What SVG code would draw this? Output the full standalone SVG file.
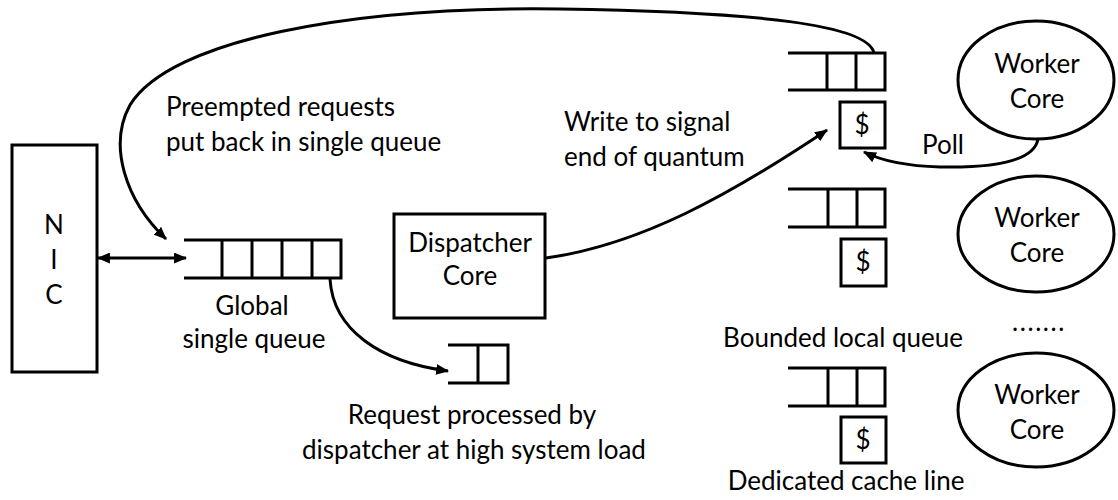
<svg xmlns="http://www.w3.org/2000/svg" width="1118" height="500" viewBox="0 0 1118 500">
<style>
text{font-family:Lato,"Liberation Sans",sans-serif;font-size:26px;fill:#000}
.box{fill:#fff;stroke:#000;stroke-width:3}
.q{fill:none;stroke:#000;stroke-width:3}
.c{fill:none;stroke:#000;stroke-width:3}
.m{text-anchor:middle}
</style>
<defs>
<marker id="ah" viewBox="0 0 12 10" refX="11" refY="5" markerWidth="13" markerHeight="11" markerUnits="userSpaceOnUse" orient="auto-start-reverse">
<path d="M0,0 L12,5 L0,10 z" fill="#000"/>
</marker>
</defs>
<rect width="1118" height="500" fill="#fff"/>

<g id="nic">
<rect class="box" x="12" y="145" width="85" height="227"/>
<text class="m" x="54" y="234">N</text>
<text class="m" x="54" y="269">I</text>
<text class="m" x="54" y="304">C</text>
</g>

<g id="global-queue">
<path class="q" d="M184 240 H341 V278 H184 M222 240 V278 M252 240 V278 M282 240 V278 M312 240 V278"/>
<text class="m" x="252" y="315">Global</text>
<text class="m" x="254" y="348">single queue</text>
</g>

<g id="dispatcher">
<rect class="box" x="394" y="214" width="151" height="104"/>
<text class="m" x="470" y="252">Dispatcher</text>
<text class="m" x="470" y="285">Core</text>
</g>

<g id="dispatcher-queue">
<path class="q" d="M448 345 H508 V383 H448 M478 345 V383"/>
</g>

<g id="local-queue-1">
<path class="q" d="M788 53 H885 V90 H788 M827 53 V90 M856 53 V90"/>
<rect class="box" x="840" y="102" width="45" height="46"/>
<text class="m" x="862" y="134">$</text>
</g>
<g id="local-queue-2">
<path class="q" d="M788 189 H885 V227 H788 M828 189 V227 M857 189 V227"/>
<rect class="box" x="841" y="239" width="45" height="47"/>
<text class="m" x="863" y="271">$</text>
</g>
<g id="local-queue-3">
<path class="q" d="M788 368 H885 V406 H788 M828 368 V406 M857 368 V406"/>
<rect class="box" x="841" y="417" width="45" height="46"/>
<text class="m" x="863" y="449">$</text>
</g>

<g id="worker-1">
<ellipse class="box" cx="1036" cy="80" rx="78" ry="59"/>
<text class="m" x="1037" y="73">Worker</text>
<text class="m" x="1037" y="108">Core</text>
</g>
<g id="worker-2">
<ellipse class="box" cx="1036" cy="234" rx="78" ry="58"/>
<text class="m" x="1037" y="227">Worker</text>
<text class="m" x="1037" y="262">Core</text>
</g>
<g id="worker-3">
<ellipse class="box" cx="1036" cy="410" rx="78" ry="57"/>
<text class="m" x="1037" y="404">Worker</text>
<text class="m" x="1037" y="439">Core</text>
</g>

<g id="connectors">
<path class="c" d="M874 53 C868 25 760 12 560 9 C350 6 170 40 130 105 C108 145 125 200 166 239" marker-end="url(#ah)"/>
<path class="c" d="M98 258 H186" marker-start="url(#ah)" marker-end="url(#ah)"/>
<path class="c" d="M330 279 C333 330 380 362 448 371" marker-end="url(#ah)"/>
<path class="c" d="M546 258 C640 245 730 195 827 130" marker-end="url(#ah)"/>
<path class="c" d="M1038 139 C1034 162 990 168 940 167 C905 166 880 160 864 152" marker-end="url(#ah)"/>
</g>

<g id="labels">
<text x="166" y="116">Preempted requests</text>
<text x="166" y="151">put back in single queue</text>
<text x="564" y="131">Write to signal</text>
<text x="564" y="166">end of quantum</text>
<text x="922" y="154">Poll</text>
<text class="m" x="843" y="347">Bounded local queue</text>
<text class="m" x="1039" y="331" style="letter-spacing:1.6px">.......</text>
<text class="m" x="472" y="424">Request processed by</text>
<text class="m" x="474" y="459">dispatcher at high system load</text>
<text class="m" x="846" y="490">Dedicated cache line</text>
</g>
</svg>
